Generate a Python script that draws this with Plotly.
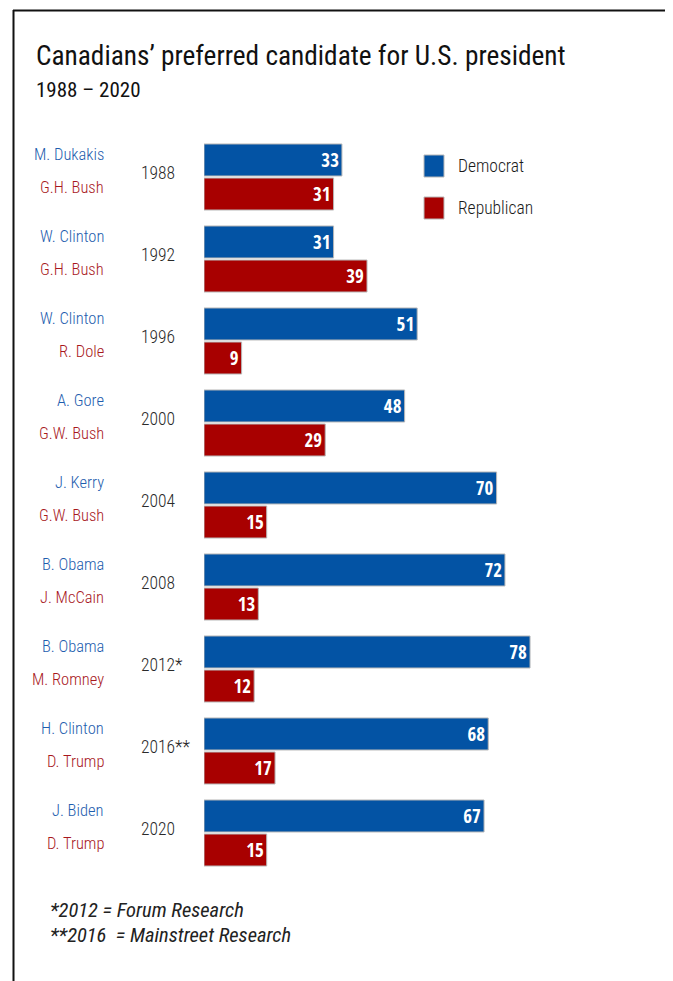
import plotly.graph_objects as go

years = ["1988", "1992", "1996", "2000", "2004", "2008", "2012", "2016", "2020"]
year_labels = ["1988", "1992", "1996", "2000", "2004", "2008", "2012*", "2016**", "2020"]
dem_names = ["M. Dukakis", "W. Clinton", "W. Clinton", "A. Gore", "J. Kerry", "B. Obama", "B. Obama", "H. Clinton", "J. Biden"]
rep_names = ["G.H. Bush", "G.H. Bush", "R. Dole", "G.W. Bush", "G.W. Bush", "J. McCain", "M. Romney", "D. Trump", "D. Trump"]
dem_values = [33, 31, 51, 48, 70, 72, 78, 68, 67]
rep_values = [31, 39, 9, 29, 15, 13, 12, 17, 15]

BLUE = "#0353A4"
RED = "#A80000"
BLUE_TXT = "#1E5DAE"
RED_TXT = "#A8181D"
COND = "Roboto Condensed, DejaVu Sans Condensed, sans-serif"
BOLDC = "Open Sans Condensed, Roboto Condensed, sans-serif"

OFF = 8  # page body margin
W, H = 673, 981
L, T = 204 - OFF, 136 - OFF
PW = 418
PH = 738
R = W - L - PW
B = H - T - PH

def px(x):
    return (x - OFF - L) / PW

def py(y):
    return 1 - (y - OFF - T) / PH

fig = go.Figure()
for name, vals, col in [("Democrat", dem_values, BLUE), ("Republican", rep_values, RED)]:
    fig.add_trace(go.Bar(
        y=years, x=vals, orientation="h", name=name,
        marker=dict(color=col, line=dict(color="#B8B8B8", width=1)),
        text=[str(v) for v in vals], textposition="inside", insidetextanchor="end", textangle=0,
        textfont=dict(family=BOLDC, size=19, color="white", weight="bold"),
        showlegend=False,
    ))

annotations = []
for i, (lab, dn, rn) in enumerate(zip(year_labels, dem_names, rep_names)):
    annotations.append(dict(x=px(106), xref="paper", y=i, yref="y", text=dn, showarrow=False,
                            xanchor="right", yanchor="middle", yshift=23,
                            font=dict(family=COND, size=16.5, color=BLUE_TXT, weight=300)))
    annotations.append(dict(x=px(106), xref="paper", y=i, yref="y", text=rn, showarrow=False,
                            xanchor="right", yanchor="middle", yshift=-10,
                            font=dict(family=COND, size=16.5, color=RED_TXT, weight=300)))
    annotations.append(dict(x=px(139), xref="paper", y=i, yref="y", text=lab, showarrow=False,
                            xanchor="left", yanchor="middle", yshift=4,
                            font=dict(family=COND, size=17.5, color="#2a2a2a", weight=300)))

annotations.append(dict(x=px(34), xref="paper", y=py(56), yref="paper", text="Canadians\u2019 preferred candidate for U.S. president",
                        showarrow=False, xanchor="left", yanchor="middle",
                        font=dict(family=COND, size=27.3, color="#111111")))
annotations.append(dict(x=px(34), xref="paper", y=py(90), yref="paper", text="1988 \u2013 2020",
                        showarrow=False, xanchor="left", yanchor="middle",
                        font=dict(family=COND, size=21, color="#111111")))
for i, (name, col) in enumerate([("Democrat", BLUE), ("Republican", RED)]):
    yc = 166 + 42 * i
    annotations.append(dict(x=px(456), xref="paper", y=py(yc), yref="paper", text=name, showarrow=False,
                            xanchor="left", yanchor="middle",
                            font=dict(family=COND, size=17.5, color="#1a1a1a", weight=300)))
for i, t in enumerate(["*2012 = Forum Research", "**2016  = Mainstreet Research"]):
    annotations.append(dict(x=px(48), xref="paper", y=py(910 + 25 * i), yref="paper", text="<i>%s</i>" % t.replace("  ", " &nbsp;"),
                            showarrow=False, xanchor="left", yanchor="middle",
                            font=dict(family=COND, size=20.5, color="#222222")))

shapes = [
    dict(type="line", xref="paper", yref="paper", x0=px(13.5), x1=px(13.5), y0=py(10), y1=py(H + 20),
         line=dict(color="#111111", width=2)),
    dict(type="line", xref="paper", yref="paper", x0=px(13), x1=px(700), y0=py(10.5), y1=py(10.5),
         line=dict(color="#111111", width=2)),
]
for i, col in enumerate([BLUE, RED]):
    y0 = 155 + 42 * i
    shapes.append(dict(type="rect", xref="paper", yref="paper", x0=px(424), x1=px(444), y0=py(y0), y1=py(y0 + 22),
                       fillcolor=col, line=dict(color="#B8B8B8", width=1)))

fig.update_layout(
    width=W, height=H,
    margin=dict(l=L, r=R, t=T, b=B, pad=0),
    paper_bgcolor="white", plot_bgcolor="white",
    barmode="group", bargap=0.17, bargroupgap=0.06,
    xaxis=dict(range=[0, 100], visible=False),
    yaxis=dict(type="category", categoryorder="array", categoryarray=years, range=[8.5, -0.5],
               showticklabels=False, showgrid=False, zeroline=False, showline=False, ticks=""),
    annotations=annotations, shapes=shapes,
    font=dict(family=COND),
)

fig.write_html("out.html")
